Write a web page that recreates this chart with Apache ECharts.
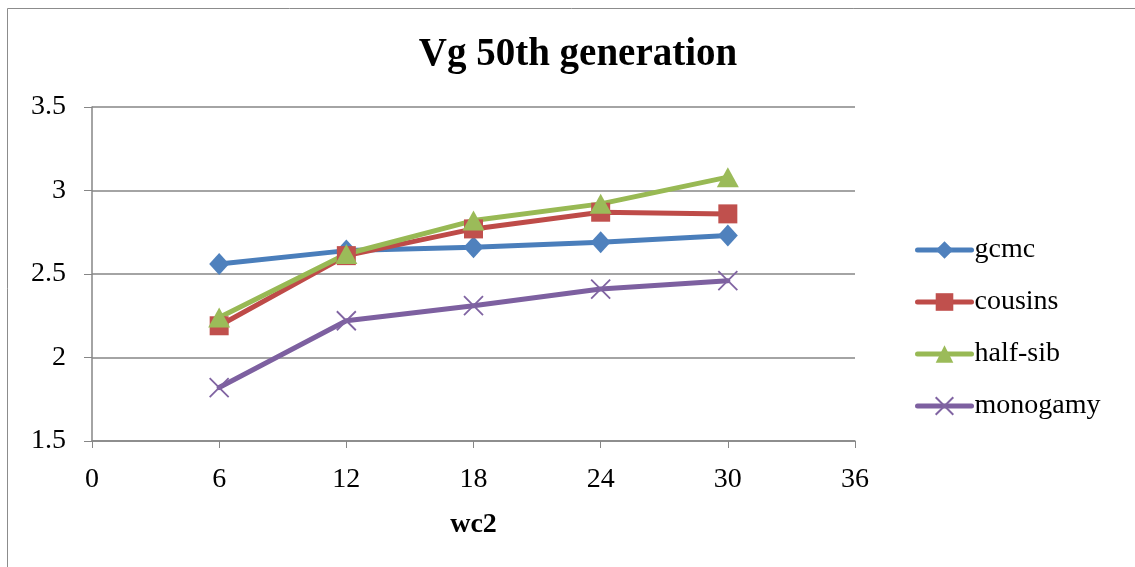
<!DOCTYPE html>
<html>
<head>
<meta charset="utf-8">
<script src="https://cdn.jsdelivr.net/npm/echarts@6/dist/echarts.min.js"></script>
<style>
  html, body { margin: 0; padding: 0; background: #fff; }
  #chart { width: 1135px; height: 567px; }
</style>
</head>
<body>
<div id="chart"></div>
<script>
// wc2 levels on the x axis
const wc2 = [6, 12, 18, 24, 30];
// Vg at the 50th generation for each mating scheme
const gcmc = [2.56, 2.64, 2.66, 2.69, 2.73];
const cousins = [2.19, 2.61, 2.77, 2.87, 2.86];
const halfSib = [2.24, 2.62, 2.82, 2.92, 3.08];
const monogamy = [1.82, 2.22, 2.31, 2.41, 2.46];
const seriesNames = ['gcmc', 'cousins', 'half-sib', 'monogamy'];

const FONT = '"Liberation Serif", "Times New Roman", serif';
const crossPath = 'path://M0,0 L10,10 M10,0 L0,10';

function pairs(vals) {
  return wc2.map((x, i) => [x, vals[i]]);
}

function lineSeries(name, vals, lineColor, markColor, symbol, size, extra) {
  return Object.assign({
    name: name,
    type: 'line',
    data: pairs(vals),
    symbol: symbol,
    symbolSize: size,
    showAllSymbol: true,
    lineStyle: { color: lineColor, width: 5, cap: 'round', join: 'round' },
    itemStyle: { color: markColor, borderColor: markColor, borderWidth: 0 },
    emphasis: { disabled: true },
    animation: false
  }, extra || {});
}

const chart = echarts.init(document.getElementById('chart'), null, { renderer: 'canvas' });
chart.setOption({
  backgroundColor: '#ffffff',
  animation: false,
  graphic: [{
    type: 'rect',
    shape: { x: 7.5, y: 8.5, width: 1140, height: 570 },
    style: { fill: 'none', stroke: '#8c8c8c', lineWidth: 1 },
    silent: true
  }],
  title: {
    text: 'Vg 50th generation',
    left: 573,
    textAlign: 'center',
    top: 30,
    textStyle: { fontFamily: FONT, fontSize: 39, fontWeight: 'bold', color: '#000' }
  },
  grid: { left: 92, right: 280, top: 107, bottom: 126, containLabel: false },
  legend: {
    orient: 'vertical',
    left: 910,
    top: 231,
    itemWidth: 54,
    itemHeight: 22,
    itemGap: 24,
    lineStyle: { width: 5, cap: 'round' },
    textStyle: { fontFamily: FONT, fontSize: 28, lineHeight: 28, color: '#000', padding: [0, 0, 0, -2] },
    data: seriesNames
  },
  xAxis: {
    type: 'value',
    min: 0,
    max: 36,
    interval: 6,
    name: 'wc2',
    nameLocation: 'middle',
    nameGap: 70,
    nameTextStyle: { fontFamily: FONT, fontSize: 28, fontWeight: 'bold', color: '#000' },
    axisLine: { show: true, lineStyle: { color: '#868686', width: 1.5 } },
    axisTick: { show: true, length: 7, lineStyle: { color: '#868686', width: 1 } },
    axisLabel: { fontFamily: FONT, fontSize: 28, color: '#000', margin: 25 },
    splitLine: { show: false }
  },
  yAxis: {
    type: 'value',
    min: 1.5,
    max: 3.5,
    interval: 0.5,
    axisLine: { show: true, lineStyle: { color: '#868686', width: 1.5 } },
    axisTick: { show: true, length: 8, lineStyle: { color: '#868686', width: 1 } },
    axisLabel: { fontFamily: FONT, fontSize: 28, color: '#000', margin: 26 },
    splitLine: { show: true, lineStyle: { color: '#868686', width: 1.5 } }
  },
  series: [
    lineSeries('gcmc', gcmc, '#4A7EBB', '#4F81BD', 'diamond', [20, 22]),
    lineSeries('cousins', cousins, '#BE4B48', '#C0504D', 'rect', 19),
    lineSeries('half-sib', halfSib, '#98B954', '#9BBB59', 'triangle', [22, 20]),
    lineSeries('monogamy', monogamy, '#7D60A0', '#8064A2', crossPath, 19, {
      itemStyle: { color: 'rgba(0,0,0,0)', borderColor: '#8064A2', borderWidth: 1.8 }
    })
  ]
});
</script>
</body>
</html>
